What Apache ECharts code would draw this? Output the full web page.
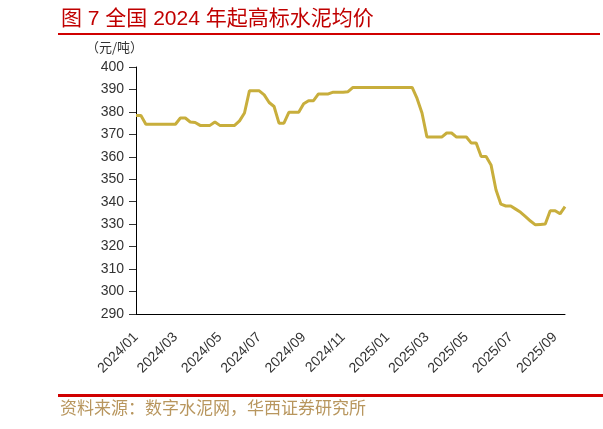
<!DOCTYPE html>
<html>
<head>
<meta charset="utf-8">
<script src="https://cdn.jsdelivr.net/npm/echarts@6/dist/echarts.min.js"></script>
<style>
html,body{margin:0;padding:0;background:#fff;}
#chart{width:603px;height:429px;}
</style>
</head>
<body>
<div id="chart"></div>
<script>
var titleText = '图 7 全国 2024 年起高标水泥均价';
var unitText = '（元/吨）';
var sourceText = '资料来源：数字水泥网，华西证券研究所';

var categories = [
  '2024/01/05','2024/01/12','2024/01/19','2024/01/26',
  '2024/02/02','2024/02/09','2024/02/16','2024/02/23',
  '2024/03/01','2024/03/08','2024/03/15','2024/03/22','2024/03/29',
  '2024/04/05','2024/04/12','2024/04/19','2024/04/26',
  '2024/05/03','2024/05/10','2024/05/17','2024/05/24','2024/05/31',
  '2024/06/07','2024/06/21','2024/06/28',
  '2024/07/05','2024/07/12','2024/07/19','2024/07/26',
  '2024/08/02','2024/08/09','2024/08/16','2024/08/23','2024/08/30',
  '2024/09/06','2024/09/13','2024/09/20','2024/09/27',
  '2024/10/04','2024/10/11','2024/10/18','2024/10/25',
  '2024/11/01','2024/11/08','2024/11/15','2024/11/22','2024/11/29',
  '2024/12/06','2024/12/13','2024/12/20','2024/12/27',
  '2025/01/03','2025/01/10','2025/01/17','2025/01/24',
  '2025/02/07','2025/02/14','2025/02/21','2025/02/28',
  '2025/03/07','2025/03/14','2025/03/21','2025/03/28',
  '2025/04/04','2025/04/11','2025/04/18','2025/04/25',
  '2025/05/02','2025/05/09','2025/05/16','2025/05/23','2025/05/30',
  '2025/06/06','2025/06/13','2025/06/20','2025/06/27',
  '2025/07/04','2025/07/11','2025/07/18','2025/07/25',
  '2025/08/01','2025/08/08','2025/08/15','2025/08/22','2025/08/29',
  '2025/09/05','2025/09/12','2025/09/19'
];

var prices = [
  378.4, 378.4, 374.5, 374.5, 374.5, 374.5, 374.5, 374.5, 374.5, 377.3,
  377.3, 375.5, 375.3, 374.0, 374.0, 374.0, 375.5, 374.0, 374.0, 374.0,
  374.0, 376.0, 379.5, 389.4, 389.4, 389.4, 387.6, 384.2, 382.4, 375.0,
  375.0, 379.8, 379.8, 379.8, 383.6, 385.0, 385.0, 388.0, 388.0, 388.0,
  388.8, 388.8, 388.8, 389.0, 390.9, 390.9, 390.9, 390.9, 390.9, 390.9,
  390.9, 390.9, 390.9, 390.9, 390.9, 390.9, 390.9, 386.0, 379.5, 368.8,
  368.8, 368.8, 368.8, 370.6, 370.6, 368.8, 368.8, 368.8, 366.1, 366.1,
  360.1, 360.1, 356.4, 345.3, 338.9, 338.1, 338.1, 336.7, 335.3, 333.4,
  331.4, 329.7, 329.9, 330.1, 336.0, 336.0, 334.6, 337.8
];

var yMin = 290, yMax = 400, yStep = 10;

function isLabelDate(v) {
  var p = v.split('/');
  var m = parseInt(p[1], 10), d = parseInt(p[2], 10);
  return d <= 7 && (m % 2 === 1);
}

var chart = echarts.init(document.getElementById('chart'), null, {renderer: 'canvas'});
chart.setOption({
  animation: false,
  backgroundColor: '#ffffff',
  grid: {left: 136, right: 38, top: 67, bottom: 115, containLabel: false},
  xAxis: {
    type: 'category',
    data: categories,
    boundaryGap: false,
    axisLine: {show: true, lineStyle: {color: '#000', width: 1}},
    axisTick: {show: false},
    axisLabel: {
      interval: function (idx, val) { return isLabelDate(val); },
      formatter: function (val) { return val.substring(0, 7); },
      rotate: 45,
      margin: 21,
      fontFamily: 'Liberation Sans, Arial, sans-serif',
      fontSize: 14,
      color: '#333'
    },
    splitLine: {show: false}
  },
  yAxis: {
    type: 'value',
    min: yMin, max: yMax, interval: yStep,
    axisLine: {show: true, lineStyle: {color: '#000', width: 1}},
    axisTick: {show: true, length: 7, lineStyle: {color: '#333'}},
    axisLabel: {
      margin: 12,
      fontFamily: 'Liberation Sans, Arial, sans-serif',
      fontSize: 14,
      color: '#333'
    },
    splitLine: {show: false}
  },
  series: [{
    type: 'line',
    data: prices,
    showSymbol: false,
    symbol: 'none',
    lineStyle: {color: '#c8ae3c', width: 3},
    itemStyle: {color: '#c8ae3c'}
  }],
  graphic: [
    {type: 'text', left: 61, top: 9,
     style: {text: titleText, fill: '#c00000', fontSize: 21,
             fontFamily: 'Liberation Sans, "Noto Sans CJK SC", sans-serif'}},
    {type: 'rect', shape: {x: 58, y: 33, width: 542, height: 2}, style: {fill: '#d00000'}},
    {type: 'text', left: 86, top: 41,
     style: {text: unitText, fill: '#333', fontSize: 13,
             fontFamily: '"Noto Sans CJK SC", sans-serif'}},
    {type: 'rect', shape: {x: 58, y: 394, width: 545, height: 3}, style: {fill: '#d00000'}},
    {type: 'text', left: 60, top: 399,
     style: {text: sourceText, fill: '#b8965e', fontSize: 17,
             fontFamily: '"Noto Sans CJK SC", sans-serif'}}
  ]
});
</script>
</body>
</html>
